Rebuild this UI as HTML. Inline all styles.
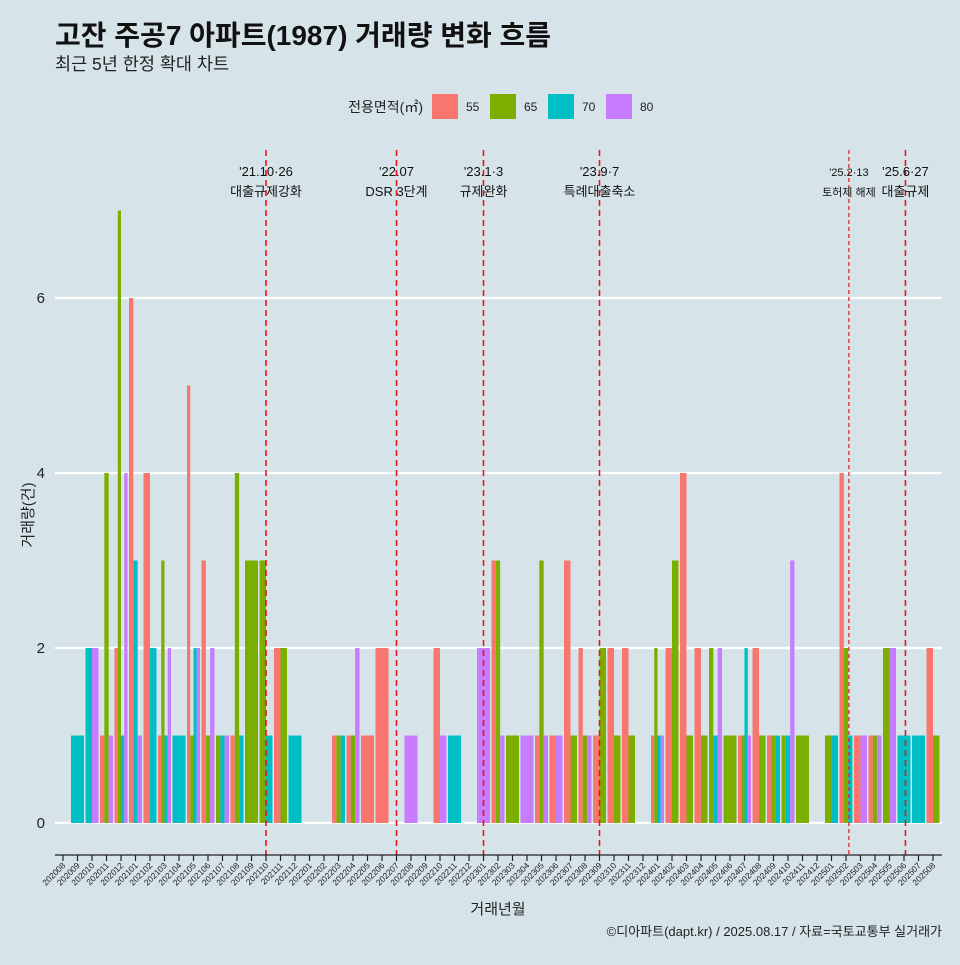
<!DOCTYPE html>
<html><head><meta charset="utf-8"><style>
body{margin:0;background:#d6e4ea;}
svg text{font-family:"Liberation Sans","Noto Sans CJK KR",sans-serif;}
</style></head><body>
<svg width="960" height="960" viewBox="0 0 960 960" xmlns="http://www.w3.org/2000/svg">
<rect width="960" height="960" fill="#d6e4ea"/>
<text x="55" y="45" font-size="28" font-weight="bold" fill="#111">고잔 주공7 아파트(1987) 거래량 변화 흐름</text>
<text x="55" y="70" font-size="17.5" fill="#222">최근 5년 한정 확대 차트</text>
<g>
<text x="423" y="112" font-size="14" text-anchor="end" fill="#222">전용면적(㎡)</text>
<rect x="432" y="94" width="26" height="25" fill="#F8766D"/>
<text x="466" y="111" font-size="12" fill="#222">55</text>
<rect x="490" y="94" width="26" height="25" fill="#7CAE00"/>
<text x="524" y="111" font-size="12" fill="#222">65</text>
<rect x="548" y="94" width="26" height="25" fill="#00BFC4"/>
<text x="582" y="111" font-size="12" fill="#222">70</text>
<rect x="606" y="94" width="26" height="25" fill="#C77CFF"/>
<text x="640" y="111" font-size="12" fill="#222">80</text>
</g>
<g id="grid"></g><g id="bars"></g><g id="vlines"></g><g id="axis"></g>
<text transform="translate(33,515) rotate(-90)" font-size="15" text-anchor="middle" fill="#222">거래량(건)</text>
<text x="498" y="914" font-size="15" text-anchor="middle" fill="#222">거래년월</text>
<text x="942" y="936" font-size="13" text-anchor="end" fill="#222">©디아파트(dapt.kr) / 2025.08.17 / 자료=국토교통부 실거래가</text>
</svg>
<script>
const months=["202008","202009","202010","202011","202012","202101","202102","202103","202104","202105","202106","202107","202108","202109","202110","202111","202112","202201","202202","202203","202204","202205","202206","202207","202208","202209","202210","202211","202212","202301","202302","202303","202304","202305","202306","202307","202308","202309","202310","202311","202312","202401","202402","202403","202404","202405","202406","202407","202408","202409","202410","202411","202412","202501","202502","202503","202504","202505","202506","202507","202508"];
const s55=[0,0,0,1,2,6,4,1,0,5,3,0,1,0,0,2,0,0,0,1,1,1,2,0,0,0,2,0,0,0,3,0,0,1,1,3,2,1,2,2,0,1,2,4,2,0,0,1,2,1,0,0,0,0,4,1,1,0,0,0,2];
const s65=[0,0,0,4,7,0,0,3,0,1,1,1,4,3,3,2,0,0,0,1,1,0,0,0,0,0,0,0,0,0,3,1,0,3,0,1,1,2,1,1,0,2,3,1,1,2,1,1,1,1,1,1,0,1,2,0,1,2,0,0,1];
const s70=[0,1,2,0,1,3,2,1,1,2,0,1,1,0,1,0,1,0,0,1,0,0,0,0,0,0,0,1,0,0,0,0,0,0,0,0,0,0,0,0,0,1,0,0,0,1,0,2,0,1,1,0,0,1,1,0,0,0,1,1,0];
const s80=[0,0,2,1,4,1,0,2,0,2,2,1,0,0,0,0,0,0,0,0,2,0,0,0,1,0,1,0,0,2,1,0,1,1,1,0,1,0,0,0,0,1,0,0,0,2,0,1,0,0,3,0,0,0,0,1,1,2,0,0,0];
const yTicks=[0,2,4,6];
const eventPos=[14,23,29,37,54.2,58.1];
const eventLine1=["'21.10·26","'22.07","'23.1·3","'23.9·7","'25.2·13","'25.6·27"];
const eventLine2=["대출규제강화","DSR 3단계","규제완화","특례대출축소","토허제 해제","대출규제"];
const colors=["#F8766D","#7CAE00","#00BFC4","#C77CFF"];
const seriesNames=["55","65","70","80"];
const NS="http://www.w3.org/2000/svg";
const X0=63,STEP=14.5,Y0=823,YU=87.5,BW=13;
const xs=i=>X0+i*STEP, ys=v=>Y0-v*YU;
function mk(tag,attrs,parent){const e=document.createElementNS(NS,tag);for(const k in attrs)e.setAttribute(k,attrs[k]);parent.appendChild(e);return e;}
const grid=document.getElementById('grid');
yTicks.forEach(t=>{
 const l=mk('line',{x1:55,x2:942,y1:ys(t),y2:ys(t),stroke:'#fff','stroke-width':2.2},grid);
 
 
 const tx=mk('text',{x:45,y:ys(t)+5,'font-size':15,'text-anchor':'end',fill:'#222'},grid);
 tx.textContent=t;
 
 
});
const bars=document.getElementById('bars');
const series=[s55,s65,s70,s80];
months.forEach((m,i)=>{
 const present=[];series.forEach((s,k)=>{if(s[i]>0)present.push(k);});
 const w=BW/(present.length||1);
 present.forEach((k,j)=>{
  const v=series[k][i];
  const r=mk('rect',{x:xs(i)-BW/2+j*w,y:ys(v),width:w,height:v*YU,fill:colors[k]},bars);
  
  
 });
});
const vl=document.getElementById('vlines');
eventPos.forEach((p,i)=>{
 const x=xs(p);
 const l=mk('line',{x1:x,x2:x,y1:150,y2:855,stroke:'#e8141c','stroke-width':i===4?1.2:1.6,'stroke-dasharray':i===4?'4,3':'6,4'},vl);
 
 
 const fs=i===4?11:13;
 const t1=mk('text',{x:x,y:176,'font-size':fs,'text-anchor':'middle',fill:'#111'},vl);
 t1.textContent=eventLine1[i];
 
 
 const t2=mk('text',{x:x,y:196,'font-size':fs,'text-anchor':'middle',fill:'#111'},vl);
 t2.textContent=eventLine2[i];
 
 
});
const ax=document.getElementById('axis');
const al=mk('line',{x1:55,x2:942,y1:855,y2:855,stroke:'#222','stroke-width':1.2},ax);


months.forEach((m,i)=>{
 const x=xs(i);
 const t=mk('line',{x1:x,x2:x,y1:855,y2:861,stroke:'#222','stroke-width':1.2},ax);
 
 
 const tx=mk('text',{transform:`translate(${x+3},${866}) rotate(-45)`,'font-size':8.5,'text-anchor':'end',fill:'#222'},ax);
 tx.textContent=m;
 
 
});
</script>
</body></html>
